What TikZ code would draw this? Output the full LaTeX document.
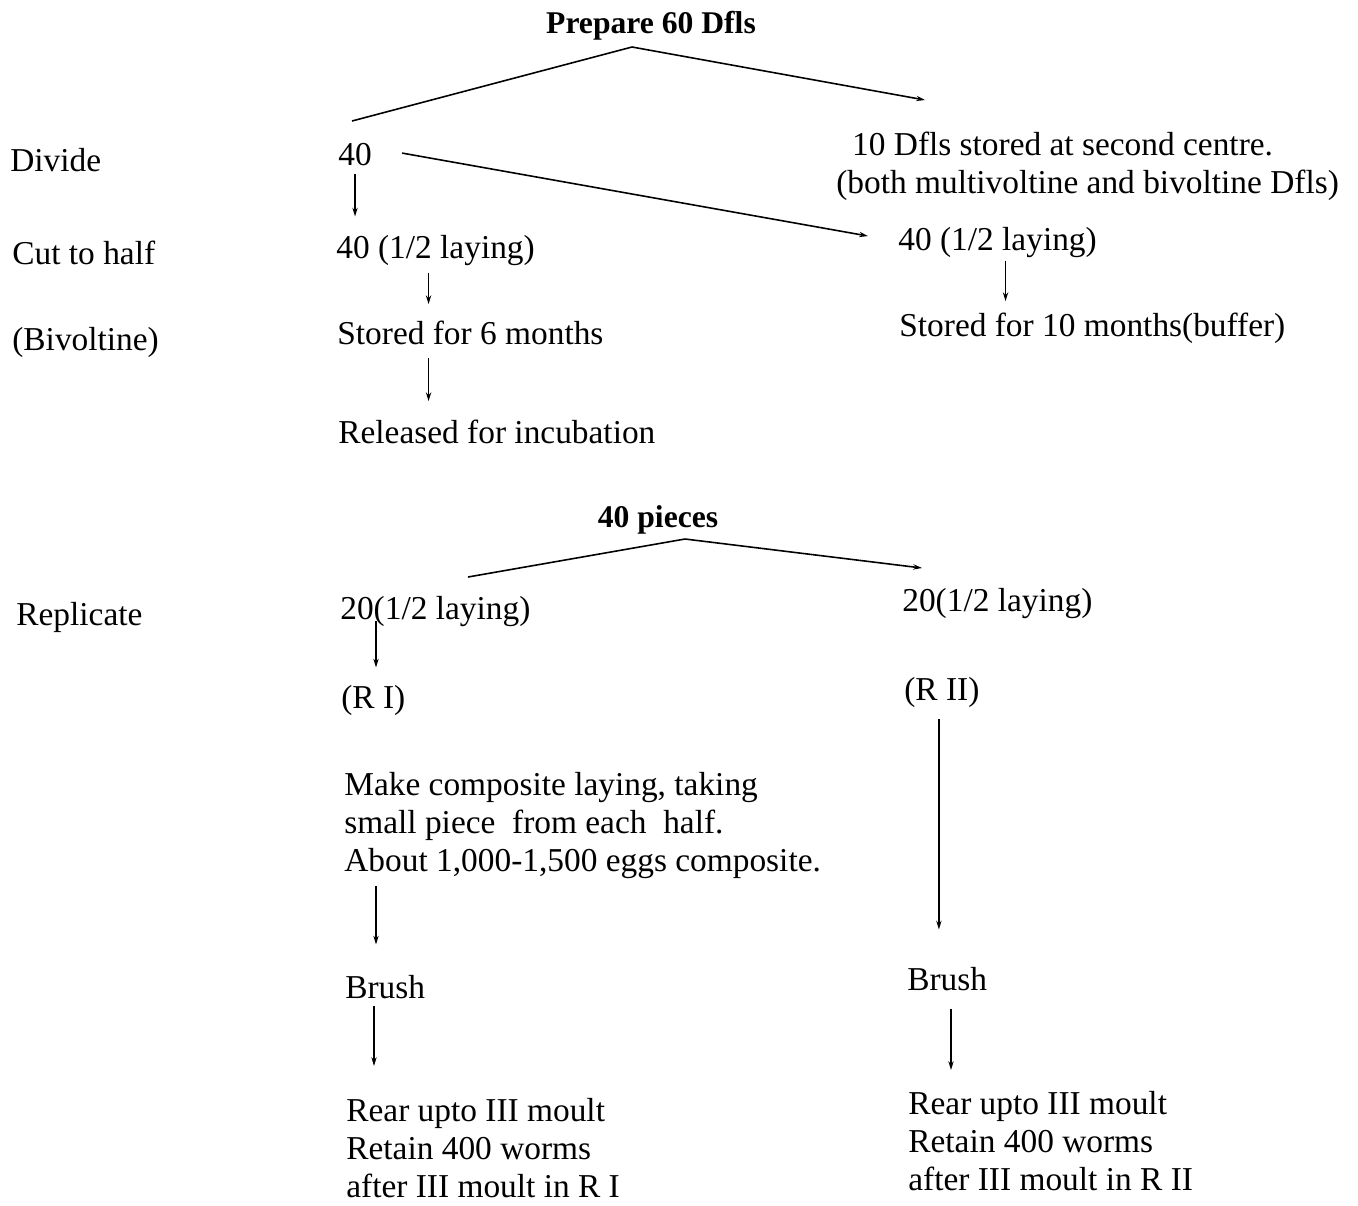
\documentclass[tikz,border=0pt]{standalone}
\usepackage{fontspec}
\setmainfont{Liberation Serif}
\usetikzlibrary{arrows.meta,calc}

\begin{document}
\begin{tikzpicture}[x=0.02cm, y=-0.02cm,
	txt/.style={anchor=base west, inner sep=0, font=\fontsize{19}{21.6}\selectfont},
	para/.style={anchor=north west, inner sep=0, align=left, font=\fontsize{19}{21.6}\selectfont},
	head/.style={anchor=base, inner sep=0, font=\fontsize{18}{21.6}\selectfont\bfseries},
	arr/.style={-{Stealth[length=5pt,width=3pt]}, line width=0.9pt},
	ln/.style={line width=0.9pt}
]
\fill[white] (0,0) rectangle (1358,1205);
\useasboundingbox (0,0) rectangle (1358,1205);

\node[head] (prep) at (651,33) {Prepare 60 Dfls};
\node[txt] (div) at (10,171) {Divide};
\node[txt] (cut) at (12,264) {Cut to half};
\node[txt] (biv) at (12,350) {(Bivoltine)};
\node[txt] (n40) at (338,165) {40};
\node[txt] (half1) at (336,258) {40 (1/2 laying)};
\node[txt] (half2) at (898,250) {40 (1/2 laying)};
\node[txt] (sto6) at (337,344) {Stored for 6 months};
\node[txt] (sto10) at (899,336) {Stored for 10 months(buffer)};
\node[txt] (rel) at (338,443) {Released for incubation};
\node[para] (sec) at (836,132) {\hspace*{9pt}10 Dfls stored at second centre.\\(both multivoltine and bivoltine Dfls)};

\coordinate (p1) at (632,47);
\coordinate (p1l) at (352,121);
\coordinate (p1r) at (925,100);
\draw[ln] (p1) -- (p1l);
\draw[arr] (p1) -- (p1r);

\draw[arr] ($(n40.south)+(0,8)$) -- ($(n40.south |- half1.north)+(0,-18)$);
\draw[arr] ($(n40.east)+(30,-1)$) -- ($(half2.west)+(-30,-6)$);
\draw[arr] ($(half1.south)+(-7,7)$) -- ($(half1.south |- sto6.north)+(-7,-16)$);
\draw[arr] ($(half1.south |- sto6.south)+(-7,13)$) -- ($(half1.south |- rel.north)+(-7,-18)$);
\draw[arr] ($(half2.south)+(8,3)$) -- ($(half2.south |- sto10.north)+(8,-11)$);

\node[head] (pcs) at (658,527) {40 pieces};
\node[txt] (rep) at (16,625) {Replicate};
\node[txt] (rep1) at (340,619) {20(1/2 laying)};
\node[txt] (rep2) at (902,611) {20(1/2 laying)};
\node[txt] (r1) at (341,708) {(R I)};
\node[txt] (r2) at (904,700) {(R II)};
\node[para] (comp) at (344,772) {Make composite laying, taking\\small piece \ from each \ half.\\About 1,000-1,500 eggs composite.};
\node[txt] (brush1) at (345,998) {Brush};
\node[txt] (brush2) at (907,990) {Brush};
\node[para] (rear1) at (346,1098) {Rear upto III moult\\Retain 400 worms\\after III moult in R I};
\node[para] (rear2) at (908,1091) {Rear upto III moult\\Retain 400 worms\\after III moult in R II};

\coordinate (p2) at (685,539);
\coordinate (p2l) at (468,577);
\coordinate (p2r) at (922,568);
\draw[ln] (p2) -- (p2l);
\draw[arr] (p2) -- (p2r);

\draw[arr] ($(rep1.south west)+(36,-6)$) -- ($(r1.north west)+(35,-17)$);
\draw[arr] ($(r2.south)+(-3,12)$) -- ($(r2.south |- brush2.north)+(-3,-37)$);
\draw[arr] ($(comp.south west)+(32,7)$) -- ($(brush1.north west)+(31,-30)$);
\draw[arr] ($(brush1.south west)+(29,7)$) -- ($(rear1.north west)+(28,-32)$);
\draw[arr] ($(brush2.south west)+(44,18)$) -- ($(rear2.north west)+(43,-21)$);
\end{tikzpicture}
\end{document}
